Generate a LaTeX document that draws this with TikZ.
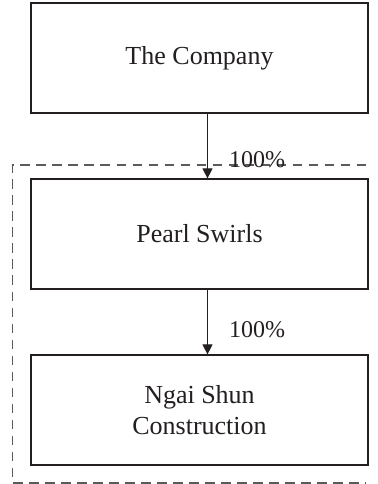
\documentclass[tikz,border=0pt]{standalone}
\usepackage{fontspec}
\setmainfont{Liberation Serif}
\usetikzlibrary{arrows.meta}
\definecolor{ChartInk}{RGB}{35,31,32}
\definecolor{ChartGray}{RGB}{90,90,90}

\begin{document}
\begin{tikzpicture}[x=1bp,y=1bp,line join=miter]
  \path[use as bounding box] (0,0) rectangle (377,484);
  \fill[white] (0,0) rectangle (377,484);

  \tikzset{
    entity/.style={draw=ChartInk,line width=1.2bp,fill=white,inner sep=0pt,
      minimum width=337bp,minimum height=110bp,align=center,text=ChartInk,
      font=\fontsize{26bp}{31bp}\selectfont},
    share/.style={anchor=base west,inner sep=0pt,text=ChartInk,
      font=\fontsize{24bp}{24bp}\selectfont},
    holding/.style={-{Triangle[width=10bp,length=10bp]},line width=1.2bp,draw=ChartInk},
    group/.style={line width=1.1bp,draw=ChartGray,dash pattern=on 9.5bp off 6.5bp},
  }

  % Group boundary (open to the right)
  \coordinate (gtr) at (366,319);
  \coordinate (gtl) at (12.5,319);
  \coordinate (gbl) at (12.5,1);
  \coordinate (gbr) at (366,1);
  \draw[group] (gtr) -- (gtl) -- (gbl) -- (gbr);

  % Entities
  \node[entity] (company) at (199.5,426) {The Company};
  \node[entity] (pearl) at (199.5,250) {Pearl Swirls};
  \node[entity] (ngaishun) at (199.5,74) {Ngai Shun\\Construction};

  % Shareholdings
  \draw[holding] ([xshift=8bp]company.south) -- ([xshift=8bp]pearl.north);
  \node[share] (pct1) at (229,316) {100\%};

  \draw[holding] ([xshift=8bp]pearl.south) -- ([xshift=8bp]ngaishun.north);
  \node[share] (pct2) at (229,146) {100\%};

\end{tikzpicture}
\end{document}
